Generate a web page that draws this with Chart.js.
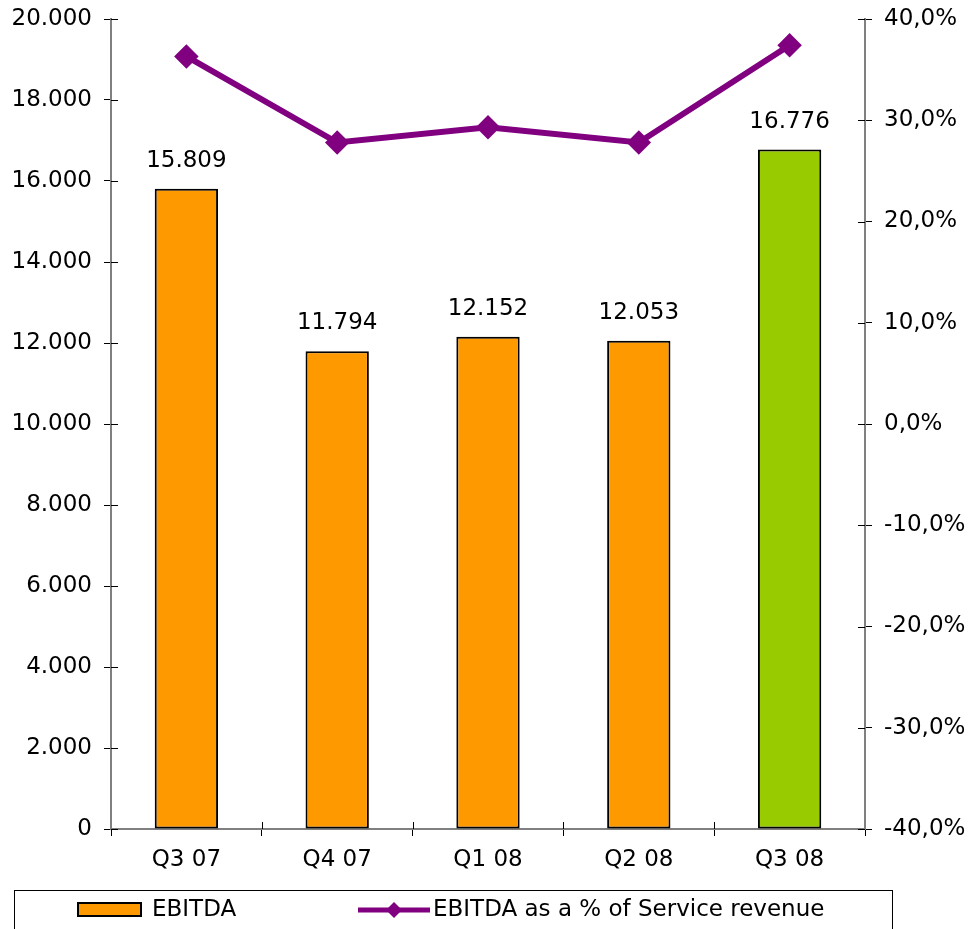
<!DOCTYPE html>
<html>
<head>
<meta charset="utf-8">
<script src="https://cdn.jsdelivr.net/npm/chart.js@4.4.1/dist/chart.umd.min.js"></script>
<style>
  body { margin: 0; background: #fff; }
  #wrap { width: 977px; height: 929px; }
</style>
</head>
<body>
<div id="wrap"><canvas id="canvas" width="977" height="929"></canvas></div>
<script>
var labels = ["Q3 07", "Q4 07", "Q1 08", "Q2 08", "Q3 08"];
var ebitda = [15809, 11794, 12152, 12053, 16776];
var ebitdaPct = [36.3, 27.8, 29.3, 27.8, 37.4];
var barColors = ["#FF9900", "#FF9900", "#FF9900", "#FF9900", "#99CC00"];

var FONT = "'DejaVu Sans', Verdana, sans-serif";
var FSIZE = 23;

function dots(v) {
    return String(Math.round(v)).replace(/\B(?=(\d{3})+(?!\d))/g, ".");
}

// value labels over the bars
var barLabels = {
    id: 'barLabels',
    afterDatasetsDraw: function(chart) {
        var ctx = chart.ctx;
        var meta = chart.getDatasetMeta(1);
        ctx.save();
        ctx.font = FSIZE + "px " + FONT;
        ctx.fillStyle = "#000";
        ctx.textAlign = "center";
        ctx.textBaseline = "alphabetic";
        meta.data.forEach(function(bar, i) {
            ctx.fillText(dots(ebitda[i]), bar.x, bar.y - 22);
        });
        ctx.restore();
    }
};

// small tick stubs on the inner side of the axes (ticks cross the axis line)
var innerTicks = {
    id: 'innerTicks',
    afterDraw: function(chart) {
        var ctx = chart.ctx, a = chart.chartArea;
        ctx.save();
        ctx.strokeStyle = "#000";
        ctx.lineWidth = 1;
        ctx.beginPath();
        chart.scales.y.ticks.forEach(function(t) {
            var py = Math.round(chart.scales.y.getPixelForValue(t.value)) + 0.5;
            ctx.moveTo(a.left, py); ctx.lineTo(a.left + 7, py);
        });
        chart.scales.y1.ticks.forEach(function(t) {
            var py = Math.round(chart.scales.y1.getPixelForValue(t.value)) + 0.5;
            ctx.moveTo(a.right, py); ctx.lineTo(a.right - 7, py);
        });
        var xs = chart.scales.x;
        for (var i = 1; i < labels.length; i++) {
            var px = Math.round((xs.getPixelForValue(i - 1) + xs.getPixelForValue(i)) / 2) + 0.5;
            ctx.moveTo(px, a.bottom); ctx.lineTo(px, a.bottom - 7);
        }
        ctx.stroke();
        ctx.restore();
    }
};

// boxed legend at the bottom
var boxLegend = {
    id: 'boxLegend',
    afterDraw: function(chart) {
        var ctx = chart.ctx;
        ctx.save();
        ctx.strokeStyle = "#000";
        ctx.lineWidth = 1;
        ctx.strokeRect(14.5, 890.5, 878, 60);

        ctx.fillStyle = "#FF9900";
        ctx.fillRect(78, 903, 63, 13);
        ctx.lineWidth = 2;
        ctx.strokeRect(78, 903, 63, 13);

        ctx.font = FSIZE + "px " + FONT;
        ctx.fillStyle = "#000";
        ctx.textBaseline = "middle";
        ctx.fillText("EBITDA", 152, 910);

        ctx.strokeStyle = "#800080";
        ctx.lineWidth = 5;
        ctx.beginPath();
        ctx.moveTo(358, 910);
        ctx.lineTo(430, 910);
        ctx.stroke();
        ctx.fillStyle = "#800080";
        ctx.beginPath();
        ctx.moveTo(394, 902);
        ctx.lineTo(402, 910);
        ctx.lineTo(394, 918);
        ctx.lineTo(386, 910);
        ctx.closePath();
        ctx.fill();

        ctx.fillStyle = "#000";
        ctx.fillText("EBITDA as a % of Service revenue", 433, 910);
        ctx.restore();
    }
};

function fixV(w) {
    return function(s) { s.width = w; s.paddingTop = 0; s.paddingBottom = 0; };
}

var config = {
    type: 'bar',
    data: {
        labels: labels,
        datasets: [
            {
                type: 'line',
                label: 'EBITDA as a % of Service revenue',
                data: ebitdaPct,
                yAxisID: 'y1',
                borderColor: '#800080',
                backgroundColor: '#800080',
                borderWidth: 6,
                pointStyle: 'rectRot',
                pointRadius: 8,
                pointHoverRadius: 8,
                tension: 0,
                order: 0
            },
            {
                label: 'EBITDA',
                data: ebitda,
                yAxisID: 'y',
                backgroundColor: barColors,
                borderColor: '#000',
                borderWidth: 2,
                borderSkipped: false,
                categoryPercentage: 1,
                barPercentage: 0.42,
                order: 1
            }
        ]
    },
    options: {
        responsive: false,
        animation: false,
        layout: { padding: { top: 19, left: 0, right: 0, bottom: 0 } },
        plugins: {
            legend: { display: false },
            tooltip: { enabled: false }
        },
        scales: {
            x: {
                offset: true,
                grid: {
                    offset: true,
                    drawOnChartArea: false,
                    drawTicks: true,
                    tickLength: 7,
                    color: '#000'
                },
                border: { color: '#808080', width: 2 },
                ticks: {
                    color: '#000',
                    font: { family: FONT, size: FSIZE },
                    padding: 10
                },
                afterFit: function(s) { s.height = 100; s.paddingLeft = 0; s.paddingRight = 0; }
            },
            y: {
                position: 'left',
                min: 0,
                max: 20000,
                grid: { drawOnChartArea: false, tickLength: 7, color: '#000' },
                border: { color: '#808080', width: 2 },
                ticks: {
                    stepSize: 2000,
                    color: '#000',
                    font: { family: FONT, size: FSIZE },
                    padding: 12,
                    callback: function(v) { return dots(v); }
                },
                afterFit: fixV(111)
            },
            y1: {
                position: 'right',
                min: -40,
                max: 40,
                grid: { drawOnChartArea: false, tickLength: 7, color: '#000' },
                border: { color: '#808080', width: 2 },
                ticks: {
                    stepSize: 10,
                    color: '#000',
                    font: { family: FONT, size: FSIZE },
                    padding: 12,
                    callback: function(v) { return v.toFixed(1).replace('.', ',') + '%'; }
                },
                afterFit: fixV(112)
            }
        }
    },
    plugins: [barLabels, innerTicks, boxLegend]
};

window.onload = function() {
    var ctx = document.getElementById('canvas').getContext('2d');
    window.myChart = new Chart(ctx, config);
};
</script>
</body>
</html>
